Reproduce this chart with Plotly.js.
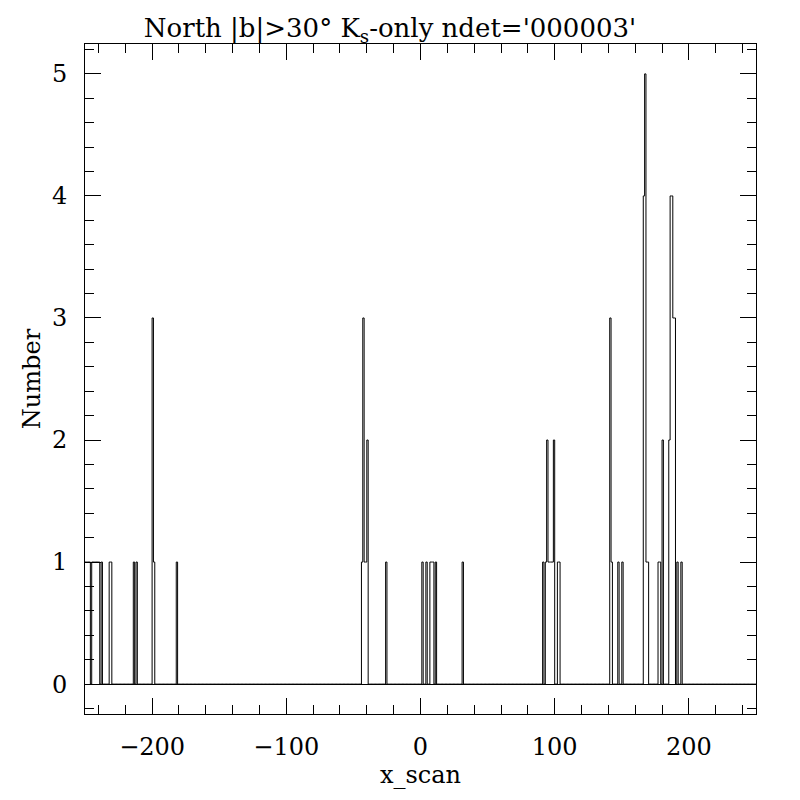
<!DOCTYPE html>
<html>
<head>
<meta charset="utf-8">
<script src="https://cdn.plot.ly/plotly-3.0.1.min.js"></script>
<style>
  html, body { margin: 0; padding: 0; background: #fff; }
  #plot { width: 800px; height: 800px; }
</style>
</head>
<body>
<div id="plot"></div>
<script>
// non-empty histogram bins (left edge, bin width 1)
var binLeft = [
    -250, -249, -248, -247,
    -245, -244, -243, -242, -241, -240,
    -238,
    -232, -231,
    -214, -212,
    -200, -199,
    -182,
    -44, -43, -42, -41, -40,
    -26,
    1, 4,
    7, 8, 9, 11,
    31,
    91, 93, 94, 95, 96, 97, 98, 99,
    102, 103,
    141, 142,
    147, 150,
    166, 167, 168, 169,
    177, 178, 180,
    185, 186, 187, 188, 189,
    191, 194
];
var binCount = [
    1, 1, 1, 1,
    1, 1, 1, 1, 1, 1,
    1,
    1, 1,
    1, 1,
    3, 1,
    1,
    1, 3, 1, 1, 2,
    1,
    1, 1,
    1, 1, 1, 1,
    1,
    1, 1, 2, 1, 1, 1, 1, 2,
    1, 1,
    3, 1,
    1, 1,
    4, 5, 1, 1,
    1, 1, 2,
    2, 4, 4, 3, 3,
    1, 1
];
var xMin = -250, xMax = 250;

function makeHist(divId, title) {

    var edges = [], vals = [];
    for (var e = xMin; e < xMax; e++) {
        var k = binLeft.indexOf(e);
        edges.push(e);
        vals.push(k < 0 ? 0 : binCount[k]);
    }
    edges.push(xMax);
    vals.push(vals[vals.length - 1]);

    var trace = {
        x: edges,
        y: vals,
        type: 'scatter',
        mode: 'lines',
        line: {shape: 'hv', color: '#000', width: 1, simplify: false},
        hoverinfo: 'none'
    };

    var font = {family: 'DejaVu Serif', size: 24, color: '#000'};

    var layout = {
        width: 800,
        height: 800,
        showlegend: false,
        paper_bgcolor: '#fff',
        plot_bgcolor: '#fff',
        margin: {l: 85, r: 44, t: 44, b: 86},
        font: font,
        title: {
            text: title,
            font: {family: 'DejaVu Serif', size: 26, color: '#000'},
            x: 390 / 800,
            xref: 'container',
            xanchor: 'center',
            y: 1 - 28 / 800,
            yref: 'container',
            yanchor: 'middle'
        },
        xaxis: {
            range: [xMin, xMax],
            dtick: 100,
            tick0: 0,
            ticks: 'inside',
            ticklen: 16,
            tickcolor: '#000',
            tickwidth: 1,
            showline: true,
            linecolor: '#000',
            linewidth: 1,
            mirror: 'ticks',
            showgrid: false,
            zeroline: false,
            ticklabelstandoff: 11,
            tickfont: font,
            minor: {dtick: 20, ticks: 'inside', ticklen: 9, tickcolor: '#000', showgrid: false},
            title: {text: 'x_scan', font: font, standoff: 0}
        },
        yaxis: {
            range: [-0.245, 5.245],
            dtick: 1,
            tick0: 0,
            ticks: 'inside',
            ticklen: 16,
            tickcolor: '#000',
            tickwidth: 1,
            showline: true,
            linecolor: '#000',
            linewidth: 1,
            mirror: 'ticks',
            showgrid: false,
            zeroline: true,
            zerolinecolor: '#000',
            zerolinewidth: 1,
            ticklabelstandoff: 12,
            tickfont: font,
            minor: {dtick: 0.2, ticks: 'inside', ticklen: 9, tickcolor: '#000', showgrid: false},
            title: {text: 'Number', font: font, standoff: 4}
        }
    };

    var config = {responsive: false, displayModeBar: false, staticPlot: true};
    Plotly.newPlot(divId, [trace], layout, config);
}

makeHist('plot', "North |b|&gt;30° K<sub>s</sub>-only ndet='000003'");
</script>
</body>
</html>
